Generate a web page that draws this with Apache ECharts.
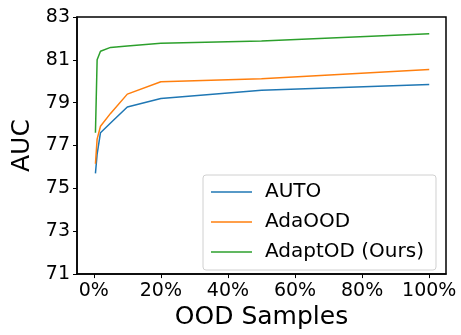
<!DOCTYPE html>
<html>
<head>
<meta charset="utf-8">
<script src="https://cdn.jsdelivr.net/npm/echarts@6/dist/echarts.min.js"></script>
<style>html,body{margin:0;padding:0;background:#fff;}#c{width:461px;height:335px;}</style>
</head>
<body>
<div id="c"></div>
<script>
const samples = [0.5, 1, 2, 5, 10, 20, 50, 100];
const auto = [75.7, 76.6, 77.6, 78.05, 78.8, 79.2, 79.58, 79.85];
const adaood = [76.15, 77.3, 77.9, 78.5, 79.4, 79.98, 80.12, 80.55];
const adaptod = [77.6, 81.0, 81.4, 81.58, 81.65, 81.78, 81.88, 82.22];
const xTicks = [0, 20, 40, 60, 80, 100];
const seriesNames = ['AUTO', 'AdaOOD', 'AdaptOD (Ours)'];
const colors = ['#1f77b4', '#ff7f0e', '#2ca02c'];

const font = 'DejaVu Sans';
const chart = echarts.init(document.getElementById('c'), null, {renderer: 'canvas'});
const mk = (name, vals, color) => ({
  name: name, type: 'line', symbol: 'none', showSymbol: false,
  data: samples.map((x, i) => [x, vals[i]]),
  lineStyle: {color: color, width: 1.5}, itemStyle: {color: color},
  animation: false
});
chart.setOption({
  animation: false,
  grid: {left: 77, right: 15, top: 17, bottom: 55, show: true, borderColor: '#000', borderWidth: 1.5, backgroundColor: 'transparent'},
  xAxis: {
    type: 'value', min: -5, max: 105,
    name: 'OOD Samples', nameLocation: 'middle', nameGap: 30,
    nameTextStyle: {fontFamily: font, fontSize: 25, color: '#000'},
    axisLine: {show: true, onZero: false, lineStyle: {color: '#000', width: 1.5}},
    axisTick: {show: true, customValues: xTicks, length: 4, lineStyle: {color: '#000', width: 1}},
    axisLabel: {customValues: xTicks, formatter: v => v + '%', fontFamily: font, fontSize: 19, color: '#000', margin: 7},
    splitLine: {show: false}
  },
  yAxis: {
    type: 'value', min: 71, max: 83, interval: 2,
    name: 'AUC', nameLocation: 'middle', nameGap: 40,
    nameTextStyle: {fontFamily: font, fontSize: 25, color: '#000'},
    axisLine: {show: true, onZero: false, lineStyle: {color: '#000', width: 1.5}},
    axisTick: {show: true, length: 4, lineStyle: {color: '#000', width: 1}},
    axisLabel: {fontFamily: font, fontSize: 19, color: '#000', margin: 7},
    splitLine: {show: false}
  },
  legend: {
    orient: 'vertical', left: 203, top: 175,
    data: seriesNames.map(n => ({name: n, icon: 'rect'})),
    itemWidth: 41, itemHeight: 1.5, itemGap: 10,
    padding: [7, 12, 8, 8],
    textStyle: {fontFamily: font, fontSize: 20, color: '#000', lineHeight: 20, padding: [0, 0, 0, 8]},
    backgroundColor: 'rgba(255,255,255,0.8)', borderColor: '#d0d0d0', borderWidth: 1, borderRadius: 3
  },
  series: [mk(seriesNames[0], auto, colors[0]), mk(seriesNames[1], adaood, colors[1]), mk(seriesNames[2], adaptod, colors[2])]
});
</script>
</body>
</html>
